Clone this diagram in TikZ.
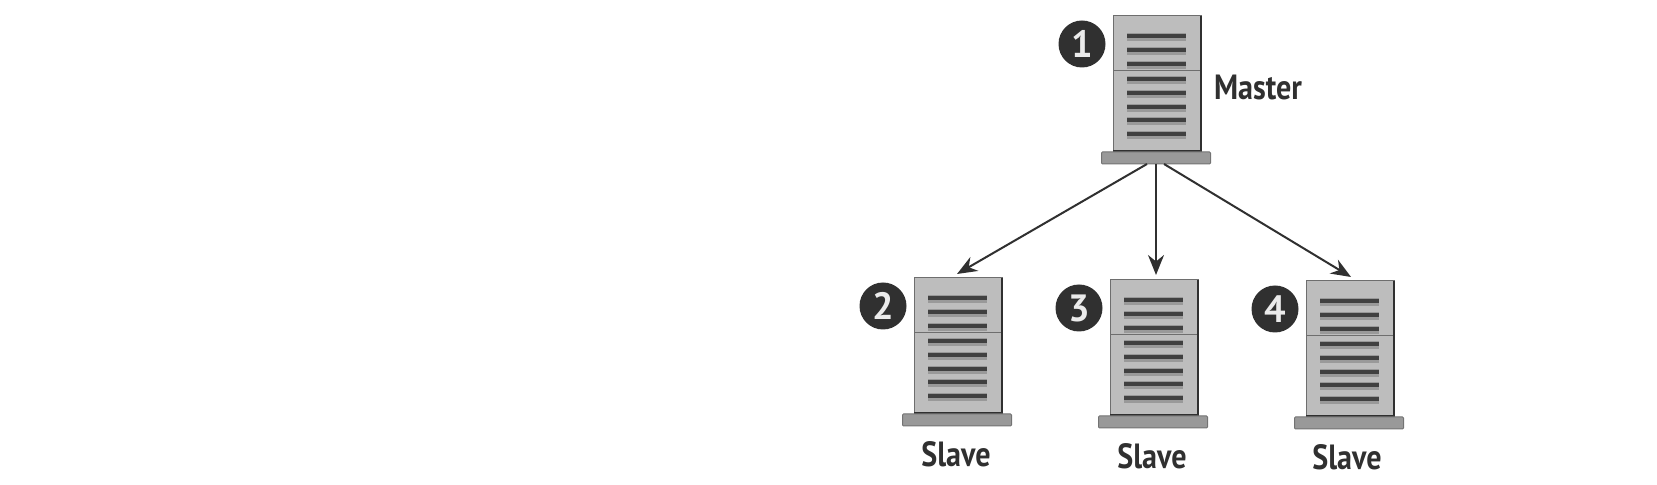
\documentclass[tikz,border=0pt]{standalone}
\usepackage{fontspec}
\setmainfont{PT Sans}
\usetikzlibrary{arrows.meta,calc}
\definecolor{body}{HTML}{BDBDBD}
\definecolor{ink}{HTML}{303030}
\tikzset{
  x=0.5pt,y=-0.5pt,
  cabinet/.style={draw=ink!70,line width=0.5pt,fill=body,minimum width=44pt,minimum height=67.5pt,inner sep=0pt,outer sep=0pt},
  plinth/.style={draw=black!55,line width=0.5pt,fill=black!40,rounded corners=0.5pt,minimum width=54.5pt,minimum height=6pt,inner sep=0pt,outer sep=0pt},
  badge/.style={circle,fill=ink,text=white!92!black,minimum size=23.5pt,inner sep=0pt,font=\bfseries\fontsize{19}{19}\selectfont},
  tag/.style={text=ink,inner sep=0pt,font=\bfseries\fontsize{17.5}{17.5}\selectfont,xscale=0.86},
  link/.style={draw=ink,line width=1pt,-{Stealth[length=10pt,width=8pt]}},
  slat/.style={draw=black!75,line width=1.6pt},
  slatglow/.style={draw=black!40,line width=3.6pt},
}
\newcommand{\serverbox}[4]{% name, x, y (top-left of cabinet), number
  \node[cabinet,anchor=north west] (#1) at (#2,#3) {};
  \foreach \sy in {20,34,48,63,77,91,104,118}{
    \draw[slatglow] ($(#1.north west)+(14,\sy+1)$) -- ($(#1.north west)+(73,\sy+1)$);
    \draw[slat] ($(#1.north west)+(14,\sy)$) -- ($(#1.north west)+(73,\sy)$);
  }
  \draw[ink!70,line width=0.5pt] ($(#1.north west)+(0,55)$) -- ($(#1.north east)+(0,55)$);
  \draw[ink,line width=1.1pt] (#1.north east) -- (#1.south east) -- (#1.south west);
  \node[plinth,anchor=north] (#1b) at ($(#1.south)+(-1,1)$) {};
  \node[badge] (#1n) at ($(#1.north west)+(-31,28)$) {#4};
}
\begin{document}
\begin{tikzpicture}
\useasboundingbox (0,0) rectangle (1657,485);
\serverbox{m}{1113}{16}{1}
\serverbox{sa}{914}{278}{2}
\serverbox{sb}{1110}{280}{3}
\serverbox{sc}{1306}{281}{4}
\node[tag] (mt) at (1258,88) {Master};
\node[tag] (sat) at (956,454) {Slave};
\node[tag] (sbt) at (1152,456) {Slave};
\node[tag] (sct) at (1347,457) {Slave};
\coordinate (ta) at (957,274);
\coordinate (tb) at (1156,275);
\coordinate (tc) at (1351,277);
\draw[link] ($(mb.south)+(-9,0)$) -- (ta);
\draw[link] (mb.south) -- (tb);
\draw[link] ($(mb.south)+(8,0)$) -- (tc);
\end{tikzpicture}
\end{document}
